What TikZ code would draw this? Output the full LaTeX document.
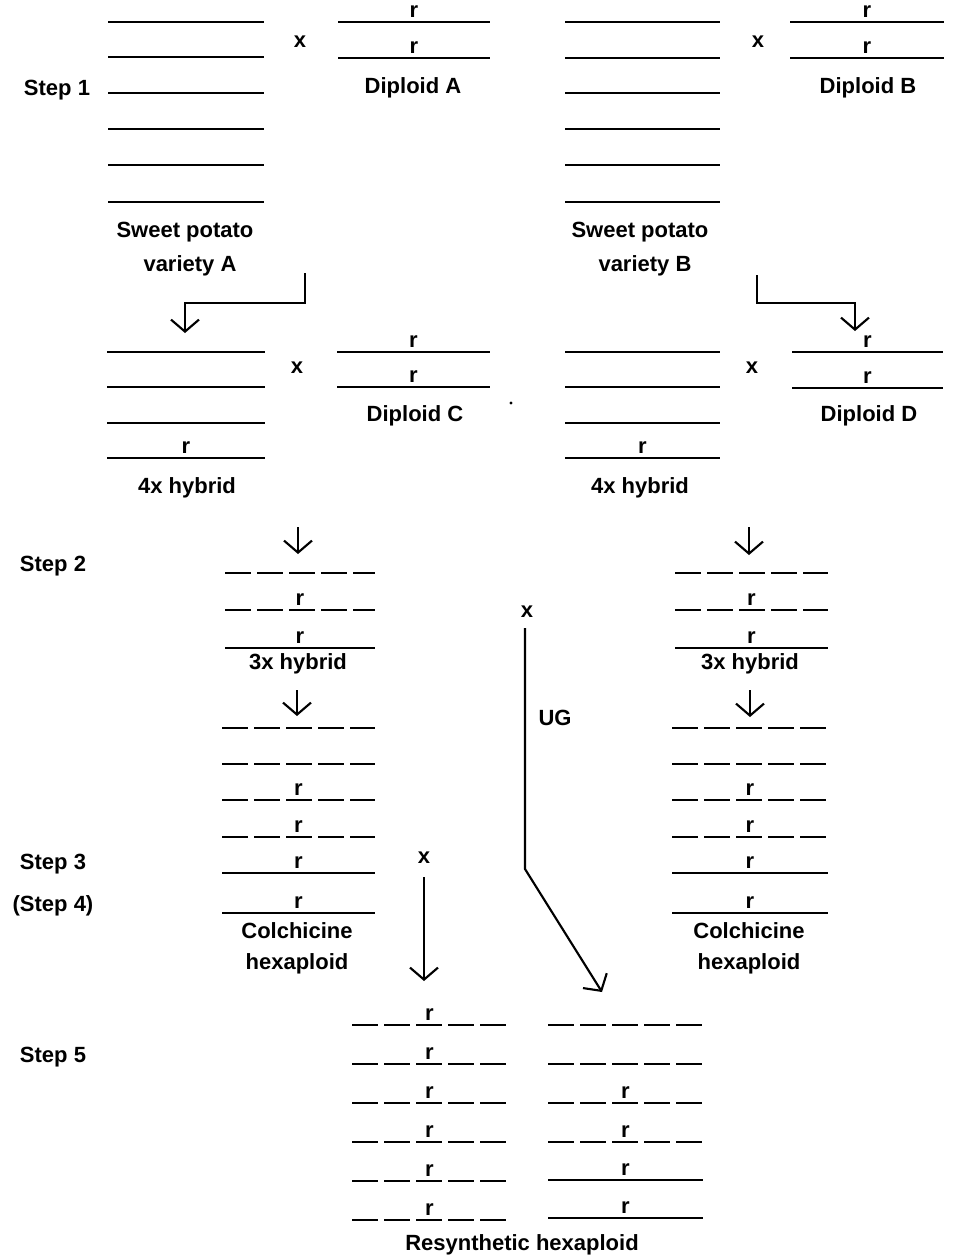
\documentclass[tikz,border=0pt]{standalone}
\usepackage{fontspec}
\setmainfont{Liberation Sans}
\usetikzlibrary{arrows.meta}
\tikzset{
  chr/.style={line width=1.6pt},
  dchr/.style={line width=1.6pt, dash pattern=on 19.5pt off 4.5pt},
  lbl/.style={font=\fontsize{16.5}{19}\selectfont\bfseries, inner sep=0pt, align=center},
  rlbl/.style={lbl, above=2.5pt},
  arr/.style={line width=1.6pt, -{Straight Barb[length=9pt,width=21pt,line width=1.6pt]}},
}
\newcommand\chrl[4]{\draw[#4] (#1,#3) -- (#2,#3);}
\newcommand\chrr[4]{\draw[#4] (#1,#3) -- node[rlbl]{r} (#2,#3);}
\begin{document}
\begin{tikzpicture}[x=0.75pt,y=-0.75pt]
\useasboundingbox (0,0) rectangle (958,1258);

% ---------- Step 1 left ----------
\node[lbl] (step1) at (57,90) {Step 1};
\foreach \yy in {22,57,93,129,165,202} {\chrl{108}{264}{\yy}{chr}}
\node[lbl] (xA) at (300,42) {x};
\chrr{338}{490}{22}{chr}
\chrr{338}{490}{58}{chr}
\node[lbl] (dipA) at (413,88) {Diploid A};
\node[lbl] (spA1) at (185,232) {Sweet potato};
\node[lbl] (spA2) at (190,266) {variety A};

% ---------- Step 1 right ----------
\foreach \yy in {22,58,93,129,165,202} {\chrl{565}{720}{\yy}{chr}}
\node[lbl] (xB) at (758,42) {x};
\chrr{790}{944}{22}{chr}
\chrr{790}{944}{58}{chr}
\node[lbl] (dipB) at (868,88) {Diploid B};
\node[lbl] (spB1) at (640,232) {Sweet potato};
\node[lbl] (spB2) at (645,266) {variety B};

% connectors step1 -> row2
\coordinate (a1s) at (305,273);
\coordinate (a1e) at (185,333);
\draw[arr] (a1s) -- ++(0,30) -| (a1e);
\coordinate (b1s) at (757,275);
\coordinate (b1e) at (855,331);
\draw[arr] (b1s) -- ++(0,28) -| (b1e);

% ---------- Row 2 left ----------
\foreach \yy in {352,387,423} {\chrl{107}{265}{\yy}{chr}}
\chrr{107}{265}{458}{chr}
\node[lbl] (xC) at (297,368) {x};
\chrr{337}{490}{352}{chr}
\chrr{337}{490}{387}{chr}
\node[lbl] (dipC) at (415,416) {Diploid C};
\fill (511,403) circle (1.2pt);
\node[lbl] (h4A) at (187,488) {4x hybrid};

% ---------- Row 2 right ----------
\foreach \yy in {352,387,423} {\chrl{565}{720}{\yy}{chr}}
\chrr{565}{720}{458}{chr}
\node[lbl] (xD) at (752,368) {x};
\chrr{792}{943}{352}{chr}
\chrr{792}{943}{388}{chr}
\node[lbl] (dipD) at (869,416) {Diploid D};
\node[lbl] (h4B) at (640,488) {4x hybrid};

% ---------- Step 2 ----------
\node[lbl] (step2) at (53,566) {Step 2};
\coordinate (a2s) at (298,527); \coordinate (a2e) at (298,554);
\draw[arr] (a2s) -- (a2e);
\chrl{225}{375}{573}{dchr}
\chrr{225}{375}{610}{dchr}
\chrr{225}{375}{648}{chr}
\node[lbl] (h3A) at (298,664) {3x hybrid};

\coordinate (b2s) at (749,527); \coordinate (b2e) at (749,555);
\draw[arr] (b2s) -- (b2e);
\chrl{675}{828}{573}{dchr}
\chrr{675}{828}{610}{dchr}
\chrr{675}{828}{648}{chr}
\node[lbl] (h3B) at (750,664) {3x hybrid};

% middle cross
\node[lbl] (xM) at (527,612) {x};
\node[lbl] (ug) at (555,718) {UG};
\coordinate (ugs) at (525,628);
\coordinate (ugb) at (525,869);
\coordinate (uge) at (602,992);
\draw[arr] (ugs) -- (ugb) -- (uge);

% ---------- Colchicine hexaploids ----------
\coordinate (a3s) at (297,690); \coordinate (a3e) at (297,716);
\draw[arr] (a3s) -- (a3e);
\chrl{222}{375}{728}{dchr}
\chrl{222}{375}{764}{dchr}
\chrr{222}{375}{800}{dchr}
\chrr{222}{375}{837}{dchr}
\chrr{222}{375}{873}{chr}
\chrr{222}{375}{913}{chr}
\node[lbl] (colA1) at (297,931) {Colchicine};
\node[lbl] (colA2) at (297,964) {hexaploid};

\coordinate (b3s) at (750,690); \coordinate (b3e) at (750,717);
\draw[arr] (b3s) -- (b3e);
\chrl{672}{828}{728}{dchr}
\chrl{672}{828}{764}{dchr}
\chrr{672}{828}{800}{dchr}
\chrr{672}{828}{837}{dchr}
\chrr{672}{828}{873}{chr}
\chrr{672}{828}{913}{chr}
\node[lbl] (colB1) at (749,931) {Colchicine};
\node[lbl] (colB2) at (749,964) {hexaploid};

\node[lbl] (step3) at (53,864) {Step 3};
\node[lbl] (step4) at (53,906) {(Step 4)};

\node[lbl] (xL) at (424,858) {x};
\coordinate (xls) at (424,877); \coordinate (xle) at (424,981);
\draw[arr] (xls) -- (xle);

% ---------- Step 5 ----------
\node[lbl] (step5) at (53,1057) {Step 5};
\foreach \yy in {1025,1064,1103,1142,1181,1220} {\chrr{352}{507}{\yy}{dchr}}
\chrl{548}{703}{1025}{dchr}
\chrl{548}{703}{1064}{dchr}
\chrr{548}{703}{1103}{dchr}
\chrr{548}{703}{1142}{dchr}
\chrr{548}{703}{1180}{chr}
\chrr{548}{703}{1218}{chr}
\node[lbl] (resyn) at (522,1245) {Resynthetic hexaploid};
\end{tikzpicture}
\end{document}
